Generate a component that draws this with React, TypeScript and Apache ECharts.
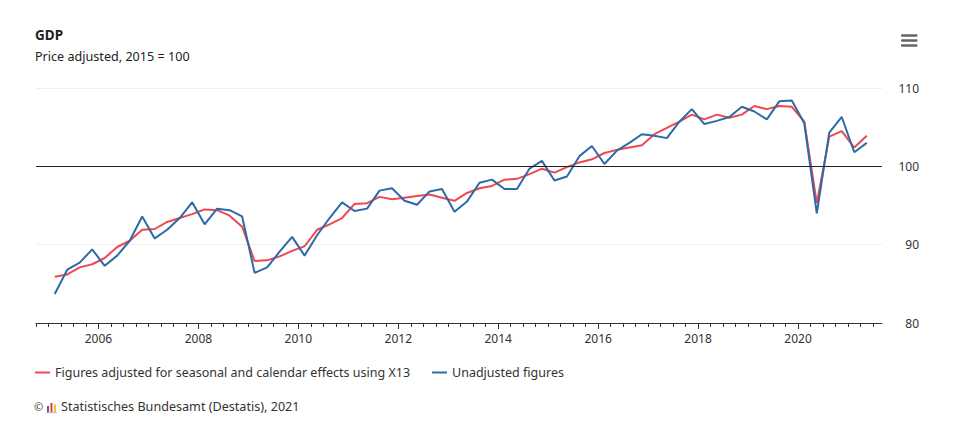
import React, { useEffect, useRef } from "react";
import * as echarts from "echarts";

const startYear = 2005;
const adjusted = [
  85.9, 86.2, 87.1, 87.5, 88.3, 89.7, 90.5, 91.9, 92.0, 92.9, 93.4, 93.9, 94.5, 94.4, 93.7, 92.3,
  87.9, 88.0, 88.5, 89.2, 89.8, 91.9, 92.6, 93.4, 95.2, 95.3, 96.1, 95.8, 96.0, 96.2, 96.4, 96.0,
  95.6, 96.6, 97.2, 97.5, 98.3, 98.4, 99.0, 99.7, 99.2, 99.9, 100.5, 100.9, 101.7, 102.1, 102.4, 102.7,
  104.1, 104.9, 105.7, 106.6, 106.0, 106.6, 106.2, 106.6, 107.7, 107.3, 107.7, 107.6, 105.7, 95.3,
  103.8, 104.5, 102.4, 103.9,
];
const unadjusted = [
  83.7, 86.8, 87.7, 89.4, 87.3, 88.6, 90.5, 93.6, 90.8, 91.9, 93.4, 95.4, 92.6, 94.6, 94.4, 93.6,
  86.4, 87.1, 89.1, 91.0, 88.6, 91.2, 93.4, 95.4, 94.3, 94.6, 96.9, 97.2, 95.6, 95.1, 96.8, 97.1,
  94.2, 95.5, 97.9, 98.3, 97.1, 97.1, 99.7, 100.7, 98.2, 98.7, 101.3, 102.6, 100.3, 102.0, 103.0, 104.1,
  103.9, 103.6, 105.7, 107.3, 105.4, 105.8, 106.3, 107.6, 107.0, 106.0, 108.3, 108.4, 105.5, 94.0,
  104.3, 106.3, 101.8, 103.0,
];
const yearLabels = [2006, 2008, 2010, 2012, 2014, 2016, 2018, 2020];
const seriesNames = [
  "Figures adjusted for seasonal and calendar effects using X13",
  "Unadjusted figures",
];

const FONT = "'Noto Sans', sans-serif";

function toPairs(vals: number[]) {
  return vals.map((v, i) => [startYear + (i + 0.5) / 4, v]);
}

export default function App() {
  const ref = useRef<HTMLDivElement>(null);
  useEffect(() => {
    document.body.style.margin = "0";
    const chart = echarts.init(ref.current!, null, { renderer: "svg" });
    const quarterTicks: number[] = [];
    for (let q = 0; q <= 67; q++) quarterTicks.push(2004.75 + q / 4);
    chart.setOption({
      animation: false,
      textStyle: { fontFamily: FONT },
      grid: { left: 36, right: 98, top: 88, bottom: 106 },
      xAxis: [
        {
          type: "value",
          min: 2004.75,
          max: 2021.68,
          axisLine: { show: true, lineStyle: { color: "#333", width: 1 } },
          axisTick: { show: true, customValues: yearLabels, length: 6, lineStyle: { color: "#333" } },
          axisLabel: {
            customValues: yearLabels,
            formatter: (v: number) => String(Math.round(v)),
            color: "#333",
            fontSize: 12,
            fontFamily: FONT,
            margin: 9,
          },
          splitLine: { show: false },
        },
        {
          type: "value",
          min: 2004.75,
          max: 2021.68,
          position: "bottom",
          axisLine: { show: false },
          axisTick: { show: true, customValues: quarterTicks, length: 4, lineStyle: { color: "#333" } },
          axisLabel: { show: false },
          splitLine: { show: false },
        },
      ],
      yAxis: {
        type: "value",
        position: "right",
        min: 80,
        max: 110,
        interval: 10,
        axisLine: { show: false },
        axisTick: { show: false },
        axisLabel: {
          color: "#333",
          fontSize: 12,
          fontFamily: FONT,
          align: "right",
          margin: 37,
        },
        splitLine: { show: true, lineStyle: { color: "#efefef", width: 1 } },
      },
      legend: {
        left: 30,
        top: 361,
        itemWidth: 15,
        itemHeight: 2,
        itemGap: 22,
        icon: "rect",
        textStyle: { color: "#333", fontSize: 12.5, fontFamily: FONT },
        data: seriesNames,
      },
      series: [
        {
          name: seriesNames[0],
          type: "line",
          data: toPairs(adjusted),
          symbol: "none",
          lineStyle: { color: "#ee4850", width: 2 },
          itemStyle: { color: "#ee4850" },
          markLine: {
            silent: true,
            symbol: "none",
            label: { show: false },
            lineStyle: { color: "#222", width: 1, type: "solid" },
            data: [{ yAxis: 100 }],
          },
          z: 2,
        },
        {
          name: seriesNames[1],
          type: "line",
          data: toPairs(unadjusted),
          symbol: "none",
          lineStyle: { color: "#2e6aa6", width: 2 },
          itemStyle: { color: "#2e6aa6" },
          z: 3,
        },
      ],
      graphic: [
        {
          type: "text",
          left: 35,
          top: 28,
          style: { text: "GDP", fontSize: 13.5, fontWeight: "bold", fill: "#222", fontFamily: FONT },
        },
        {
          type: "text",
          left: 35,
          top: 50,
          style: { text: "Price adjusted, 2015 = 100", fontSize: 12.6, fill: "#222", fontFamily: FONT },
        },
        { type: "rect", shape: { x: 901, y: 34.3, width: 16.5, height: 2.5, r: 1 }, style: { fill: "#666" } },
        { type: "rect", shape: { x: 901, y: 39.3, width: 16.5, height: 2.5, r: 1 }, style: { fill: "#666" } },
        { type: "rect", shape: { x: 901, y: 44.3, width: 16.5, height: 2.5, r: 1 }, style: { fill: "#666" } },
        {
          type: "text",
          left: 34,
          top: 401,
          style: { text: "©", fontSize: 11, fill: "#333", fontFamily: FONT },
        },
        { type: "rect", shape: { x: 47, y: 406, width: 2, height: 6 }, style: { fill: "#6a5a7a" } },
        { type: "rect", shape: { x: 50.5, y: 403, width: 2, height: 9 }, style: { fill: "#e03c31" } },
        { type: "rect", shape: { x: 54, y: 404.5, width: 2, height: 7.5 }, style: { fill: "#f2c230" } },
        { type: "rect", shape: { x: 46, y: 412, width: 11, height: 1.2 }, style: { fill: "#c8b8c8" } },
        {
          type: "text",
          left: 61,
          top: 400,
          style: { text: "Statistisches Bundesamt (Destatis), 2021", fontSize: 12.6, fill: "#333", fontFamily: FONT },
        },
      ],
    });
    return () => chart.dispose();
  }, []);
  return (
    <div
      ref={ref}
      style={{ position: "fixed", left: 0, top: 0, width: 980, height: 429, background: "#fff" }}
    />
  );
}
